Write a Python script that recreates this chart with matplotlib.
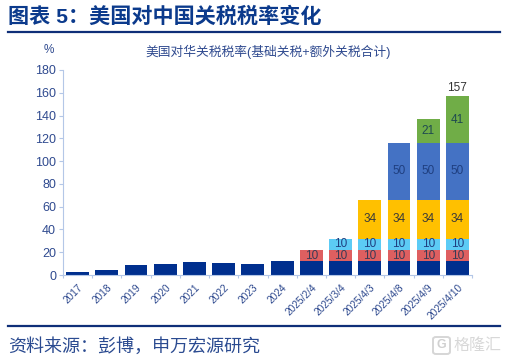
import numpy as np
import matplotlib
matplotlib.use('Agg')
import matplotlib.pyplot as plt
from matplotlib.lines import Line2D
from matplotlib.patches import FancyBboxPatch

plt.rcParams['font.family'] = ['Liberation Sans', 'Noto Sans CJK SC', 'DejaVu Sans']

W, H = 507, 362

categories = ['2017', '2018', '2019', '2020', '2021', '2022', '2023', '2024',
              '2025/2/4', '2025/3/4', '2025/4/3', '2025/4/8', '2025/4/9', '2025/4/10']
base = [2.5, 4, 9, 9.7, 11, 10.5, 10, 12, 12, 12, 12, 12, 12, 12]
feb = [0, 0, 0, 0, 0, 0, 0, 0, 10, 10, 10, 10, 10, 10]
mar = [0, 0, 0, 0, 0, 0, 0, 0, 0, 10, 10, 10, 10, 10]
apr3 = [0, 0, 0, 0, 0, 0, 0, 0, 0, 0, 34, 34, 34, 34]
apr8 = [0, 0, 0, 0, 0, 0, 0, 0, 0, 0, 0, 50, 50, 50]
apr9 = [0, 0, 0, 0, 0, 0, 0, 0, 0, 0, 0, 0, 21, 41]
yticks = [0, 20, 40, 60, 80, 100, 120, 140, 160, 180]

navy = '#002F8E'
text_blue = '#2F4A8F'

fig = plt.figure(figsize=(W / 100, H / 100), dpi=100)
ax = fig.add_axes([63 / W, 1 - 275 / H, 409 / W, 205 / H])

x = np.arange(len(categories))
stacks = [
    (base, navy, None),
    (feb, '#DE5F60', '#3A3A55'),
    (mar, '#5CCBF5', '#1F3F80'),
    (apr3, '#FFC000', '#3A3A3A'),
    (apr8, '#4472C4', '#1F3F80'),
    (apr9, '#70AD47', '#1F4A50'),
]
bottom = np.zeros(len(categories))
for values, color, label_color in stacks:
    values = np.array(values, dtype=float)
    ax.bar(x, values, 0.78, bottom=bottom, color=color)
    if label_color:
        for i, v in enumerate(values):
            if v > 0:
                ax.text(i, bottom[i] + v / 2, f'{v:.0f}', ha='center', va='center',
                        fontsize=8.5, color=label_color)
    bottom += values

ax.text(x[-1], bottom[-1] + 2, '157', ha='center', va='bottom', fontsize=8.5, color='#333333')

ax.set_xlim(-0.5, len(categories) - 0.5)
ax.set_ylim(0, 180)
ax.set_yticks(yticks)
ax.set_xticks(np.arange(len(categories) + 1) - 0.5, minor=True)
ax.set_xticks(x)
ax.set_xticklabels(categories, rotation=45, ha='right', rotation_mode='anchor',
                   fontsize=7.3, color=text_blue)
ax.tick_params(axis='x', which='major', length=0, pad=5)
ax.tick_params(axis='x', which='minor', length=2.5, color='#B4C7E7', width=0.8)
ax.tick_params(axis='y', length=3, color='#B4C7E7', width=0.8, labelsize=9,
               labelcolor=text_blue, pad=2)
for side in ['top', 'right']:
    ax.spines[side].set_visible(False)
for side in ['left', 'bottom']:
    ax.spines[side].set_color('#B4C7E7')
    ax.spines[side].set_linewidth(0.8)

fig.text(8 / W, 1 - 17 / H, '图表 5\uff1a美国对中国关税税率变化', fontsize=15.2, fontweight='bold',
         color='#0B3A8C', va='center', ha='left')
fig.text(49 / W, 1 - 50 / H, '%', fontsize=8.5, color=text_blue, ha='center', va='center')
fig.text(268 / W, 1 - 52 / H, '美国对华关税税率(基础关税+额外关税合计)', fontsize=9.2,
         color=text_blue, ha='center', va='center')
fig.text(8 / W, 1 - 347 / H, '资料来源\uff1a彭博\uff0c申万宏源研究', fontsize=13,
         color='#2A4A90', ha='left', va='center')

for y_px in [32, 326]:
    fig.add_artist(Line2D([8 / W, 500 / W], [1 - y_px / H, 1 - y_px / H], color='#0F2F78', lw=1.6))

# watermark
fig.add_artist(FancyBboxPatch((433 / W, 1 - 354 / H), 17 / W, 17 / H,
                              boxstyle='round,pad=0,rounding_size=0.006',
                              transform=fig.transFigure, fill=False, ec='#D6D6D6', lw=1.4))
fig.text(441.5 / W, 1 - 345.5 / H, 'G', fontsize=9, fontweight='bold', color='#D0D0D0', ha='center', va='center')
fig.text(453 / W, 1 - 345 / H, '格隆汇', fontsize=11.5, color='#D8D8D8', ha='left', va='center')

fig.savefig('out.png', dpi=100)
